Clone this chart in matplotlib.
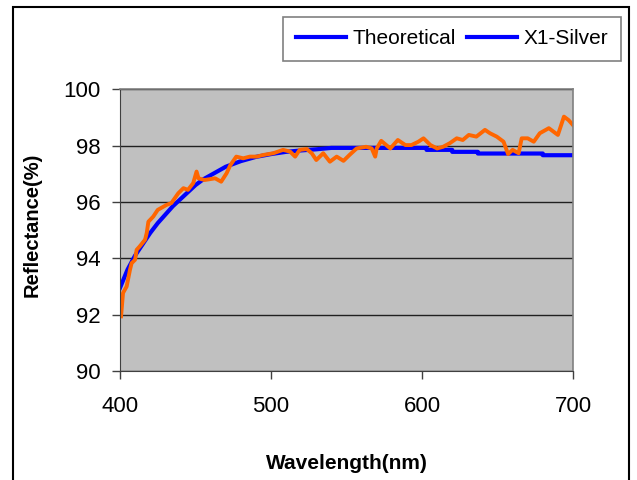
import matplotlib
matplotlib.use("Agg")
import matplotlib.pyplot as plt
from matplotlib.lines import Line2D
from matplotlib.patches import Rectangle

plt.rcParams['font.family'] = ['Liberation Sans', 'DejaVu Sans']

# Theoretical reflectance (nm, %)
theo_nm = [400, 405, 410, 415, 420, 425, 430, 435, 440, 445, 450, 455, 460,
           465, 470, 475, 480, 490, 500, 510, 520, 530, 540, 603, 603, 620,
           620, 637, 637, 680, 680, 700]
theo_r = [92.95, 93.6, 94.1, 94.5, 94.9, 95.25, 95.55, 95.85, 96.1, 96.35,
          96.6, 96.8, 96.95, 97.1, 97.25, 97.35, 97.45, 97.6, 97.7, 97.78,
          97.83, 97.87, 97.92, 97.92, 97.85, 97.85, 97.78, 97.78, 97.72,
          97.72, 97.66, 97.66]

# Measured X1-Silver (nm, %)
silver_nm = [400.7, 402, 404.4, 406.6, 407.7, 410, 411, 413, 416.6, 417.7,
             418.8, 422, 425, 431, 434, 438.6, 442, 445, 448.5, 450.7, 452,
             456, 463, 467, 470.6, 473, 477, 481.6, 486, 490.5, 495, 501.5,
             508, 512.6, 516, 519, 523.6, 527, 530, 534.6, 539, 543.5, 548,
             552, 556.7, 563, 566.7, 569, 570, 573, 579, 584, 589, 593, 597.6,
             601, 605.6, 610, 614, 618.5, 623, 627, 631, 636, 641.7, 645,
             649.5, 654, 657, 660, 664, 666, 670, 674, 678, 684, 690, 694,
             697, 700]
silver_r = [91.94, 92.77, 93.0, 93.59, 93.83, 93.95, 94.3, 94.42, 94.66, 94.9,
            95.3, 95.48, 95.72, 95.9, 95.96, 96.31, 96.49, 96.43, 96.67, 97.08,
            96.84, 96.78, 96.84, 96.72, 97.02, 97.3, 97.61, 97.55, 97.61, 97.61,
            97.67, 97.73, 97.85, 97.79, 97.61, 97.85, 97.88, 97.73, 97.49,
            97.73, 97.43, 97.61, 97.46, 97.67, 97.9, 97.96, 97.9, 97.61, 97.9,
            98.17, 97.9, 98.2, 98.02, 98.02, 98.14, 98.26, 98.02, 97.9, 97.96,
            98.09, 98.26, 98.2, 98.38, 98.32, 98.56, 98.44, 98.32, 98.14, 97.7,
            97.85, 97.73, 98.26, 98.26, 98.14, 98.44, 98.62, 98.38, 99.03,
            98.91, 98.73]

legend_labels = ["Theoretical", "X1-Silver"]

fig = plt.figure(figsize=(6.37, 4.8), dpi=100)
ax = fig.add_axes([120 / 637, 1 - 371 / 480, 453 / 637, (371 - 89.3) / 480])
ax.set_facecolor("#C0C0C0")

ax.plot(theo_nm, theo_r, color="#0000FF", lw=3.0, solid_joinstyle="round")
ax.plot(silver_nm, silver_r, color="#FF6600", lw=2.8, solid_joinstyle="round")

ax.set_xlim(400, 700)
ax.set_ylim(90, 100)
ax.set_xticks([400, 500, 600, 700])
ax.set_yticks([90, 92, 94, 96, 98, 100])
ax.yaxis.grid(True, color="#202020", lw=1.0)
ax.set_axisbelow(True)
ax.tick_params(labelsize=16, length=6, width=1, color="#404040")
ax.tick_params(axis="x", pad=12)
ax.tick_params(axis="y", pad=8)

for s in ["left", "bottom"]:
    ax.spines[s].set_color("#404040")
for s in ["top", "right"]:
    ax.spines[s].set_color("#808080")
    ax.spines[s].set_linewidth(1.2)

ax.set_xlabel("Wavelength(nm)", fontsize=15, fontweight="bold")
ax.set_ylabel("Reflectance(%)", fontsize=14.5, fontweight="bold")
ax.xaxis.set_label_coords(0.5, -0.295)
ax.yaxis.set_label_coords(-0.172, 0.52)

handles = [Line2D([], [], color="#0000FF", lw=3), Line2D([], [], color="#0000FF", lw=3)]
leg = fig.legend(handles, legend_labels, loc="upper left", ncol=2,
                 bbox_to_anchor=(283 / 637, 1 - 17 / 480), bbox_transform=fig.transFigure,
                 fontsize=15, frameon=True, fancybox=False, handlelength=2.4,
                 handletextpad=0.35, columnspacing=0.5, borderpad=0.6,
                 borderaxespad=0)
leg.get_frame().set_edgecolor("#606060")
leg.get_frame().set_linewidth(1.2)

fig.patches.append(Rectangle((13 / 637, -0.05), (629 - 13) / 637, 1 - 7 / 480 + 0.05,
                             transform=fig.transFigure, fill=False, edgecolor="black",
                             lw=1.5, clip_on=False))

fig.savefig("out.png", dpi=100)
